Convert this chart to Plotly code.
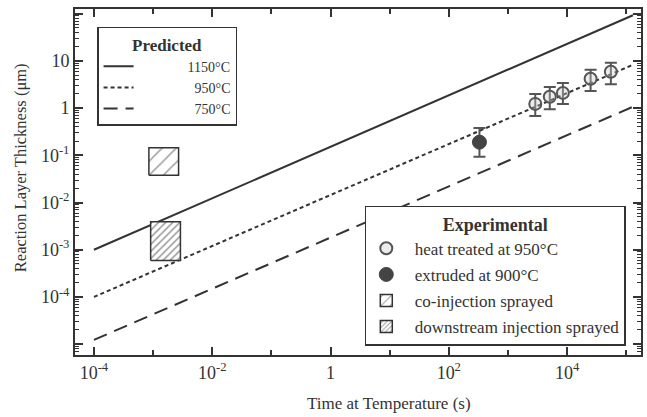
import plotly.graph_objects as go

# ---------------- data ----------------
pred_time = [1e-4, 1.3e5]
pred_1150 = [1e-3, 93.0]
pred_950 = [1e-4, 8.3]
pred_750 = [1.23e-5, 1.07]

heat_time = [2900, 5100, 8500, 25000, 55000]
heat_thk = [1.23, 1.74, 2.1, 4.2, 5.9]
heat_hi = [2.0, 2.8, 3.4, 6.5, 9.1]
heat_lo = [0.68, 0.95, 1.23, 2.3, 3.2]

extr_time = [330]
extr_thk = [0.19]
extr_hi = [0.38]
extr_lo = [0.093]

coinj_time = [8.5e-4, 2.7e-3]
coinj_thk = [0.038, 0.145]
down_time = [9.1e-4, 2.9e-3]
down_thk = [5.9e-4, 3.9e-3]

x_tickvals = [1e-4, 1e-2, 1, 1e2, 1e4]
x_ticktext = ["10<sup>-4</sup>", "10<sup>-2</sup>", "1", "10<sup>2</sup>", "10<sup>4</sup>"]
x_minor = [1e-3, 1e-1, 10, 1e3, 1e5]
y_tickvals = [1e-5, 1e-4, 1e-3, 1e-2, 1e-1, 1, 10, 100]
y_ticktext = ["", "10<sup>-4</sup>", "10<sup>-3</sup>", "10<sup>-2</sup>", "10<sup>-1</sup>", "1", "10", ""]

INK = "#333333"
FONT = "Liberation Serif"
NB = "\u00a0"

fig = go.Figure()

def rect(tx, ty):
    return [tx[0], tx[1], tx[1], tx[0], tx[0]], [ty[0], ty[0], ty[1], ty[1], ty[0]]

# predicted lines
fig.add_trace(go.Scatter(x=pred_time, y=pred_1150, mode="lines", name=NB * 14 + "1150°C",
                         line=dict(color=INK, width=2), legend="legend"))
fig.add_trace(go.Scatter(x=pred_time, y=pred_950, mode="lines", name=NB * 16 + "950°C",
                         line=dict(color=INK, width=2, dash="4px,3px"), legend="legend"))
fig.add_trace(go.Scatter(x=pred_time, y=pred_750, mode="lines", name=NB * 16 + "750°C",
                         line=dict(color=INK, width=2, dash="14px,8px"), legend="legend"))

# experimental
fig.add_trace(go.Scatter(
    x=heat_time, y=heat_thk, mode="markers", name=NB * 2 + "heat treated at 950°C",
    legend="legend2", legendgroup="g1",
    marker=dict(symbol="circle", size=12, color="rgba(200,200,200,0.35)",
                line=dict(color="#555555", width=2)),
    error_y=dict(type="data", symmetric=False,
                 array=[h - v for h, v in zip(heat_hi, heat_thk)],
                 arrayminus=[v - l for l, v in zip(heat_lo, heat_thk)],
                 color="#555555", thickness=2, width=6)))
fig.add_trace(go.Scatter(
    x=extr_time, y=extr_thk, mode="markers", name=NB * 2 + "extruded at 900°C",
    legend="legend2", legendgroup="g2",
    marker=dict(symbol="circle", size=14, color="#444444",
                line=dict(color="#444444", width=1)),
    error_y=dict(type="data", symmetric=False,
                 array=[h - v for h, v in zip(extr_hi, extr_thk)],
                 arrayminus=[v - l for l, v in zip(extr_lo, extr_thk)],
                 color="#555555", thickness=2, width=6)))

coarse = dict(shape="/", size=10, solidity=0.15, fgcolor=INK, bgcolor="white")
fine = dict(shape="/", size=5, solidity=0.3, fgcolor=INK, bgcolor="white")

cx, cy = rect(coinj_time, coinj_thk)
fig.add_trace(go.Scatter(x=cx, y=cy, mode="lines", fill="toself", showlegend=False,
                         line=dict(color=INK, width=1.5), fillcolor="white",
                         fillpattern=coarse, hoverinfo="skip"))
dx, dy = rect(down_time, down_thk)
fig.add_trace(go.Scatter(x=dx, y=dy, mode="lines", fill="toself", showlegend=False,
                         line=dict(color=INK, width=1.5), fillcolor="white",
                         fillpattern=fine, hoverinfo="skip"))

# legend entries for the hatched boxes
fig.add_trace(go.Bar(x=[None], y=[None], name=NB * 2 + "co-injection sprayed",
                     legend="legend2", legendgroup="g3",
                     marker=dict(color="white", line=dict(color=INK, width=1.5),
                                 pattern=dict(shape="/", size=8, solidity=0.15, fgcolor=INK))))
fig.add_trace(go.Bar(x=[None], y=[None], name=NB * 2 + "downstream injection sprayed",
                     legend="legend2", legendgroup="g4",
                     marker=dict(color="white", line=dict(color=INK, width=1.5),
                                 pattern=dict(shape="/", size=4, solidity=0.3, fgcolor=INK))))

axis_common = dict(type="log", showline=True, linecolor=INK, linewidth=2, mirror="ticks",
                   ticks="inside", ticklen=8, tickwidth=1.5, tickcolor=INK,
                   showgrid=False, zeroline=False, tickmode="array",
                   tickfont=dict(family=FONT, size=18, color=INK))

fig.update_xaxes(**axis_common, range=[-4.32, 5.25], tickvals=x_tickvals, ticktext=x_ticktext,
                 minor=dict(tickmode="array", tickvals=x_minor, ticks="inside", ticklen=5,
                            tickwidth=1.5, tickcolor=INK, showgrid=False))
fig.update_yaxes(**axis_common, range=[-5.23, 2.10], tickvals=y_tickvals, ticktext=y_ticktext,
                 minor=dict(tickmode="array",
                            tickvals=[m * 10 ** e for e in range(-6, 3) for m in range(2, 10)],
                            ticks="inside", ticklen=4, tickwidth=1, tickcolor=INK, showgrid=False))

legend_common = dict(bgcolor="white", bordercolor=INK, borderwidth=1.5,
                     xanchor="left", yanchor="top")

fig.update_layout(
    width=647, height=417,
    margin=dict(l=75, r=4, t=9, b=62),
    paper_bgcolor="white", plot_bgcolor="white",
    font=dict(family=FONT, size=16, color=INK),
    showlegend=True,
    legend=dict(**legend_common, x=0.039, y=0.948, tracegroupgap=0,
                font=dict(family=FONT, size=14, color=INK),
                title=dict(text="<b>Predicted</b>", side="top center",
                           font=dict(family=FONT, size=17, color=INK))),
    legend2=dict(**legend_common, x=0.512, y=0.431, tracegroupgap=1,
                 font=dict(family=FONT, size=17, color=INK),
                 title=dict(text="<b>Experimental</b>", side="top center",
                            font=dict(family=FONT, size=18, color=INK))),
    annotations=[
        dict(text="Time at Temperature (s)", xref="paper", yref="paper",
             x=(390 - 75) / 568, y=-0.139, xanchor="center", yanchor="middle",
             showarrow=False, font=dict(family=FONT, size=17, color=INK)),
        dict(text="Reaction Layer Thickness (μm)", xref="paper", yref="paper",
             x=(20 - 75) / 568, y=1 - (168 - 9) / 346, xanchor="center", yanchor="middle",
             textangle=-90, showarrow=False, font=dict(family=FONT, size=16.5, color=INK)),
    ],
)

fig.write_html("out.html")
